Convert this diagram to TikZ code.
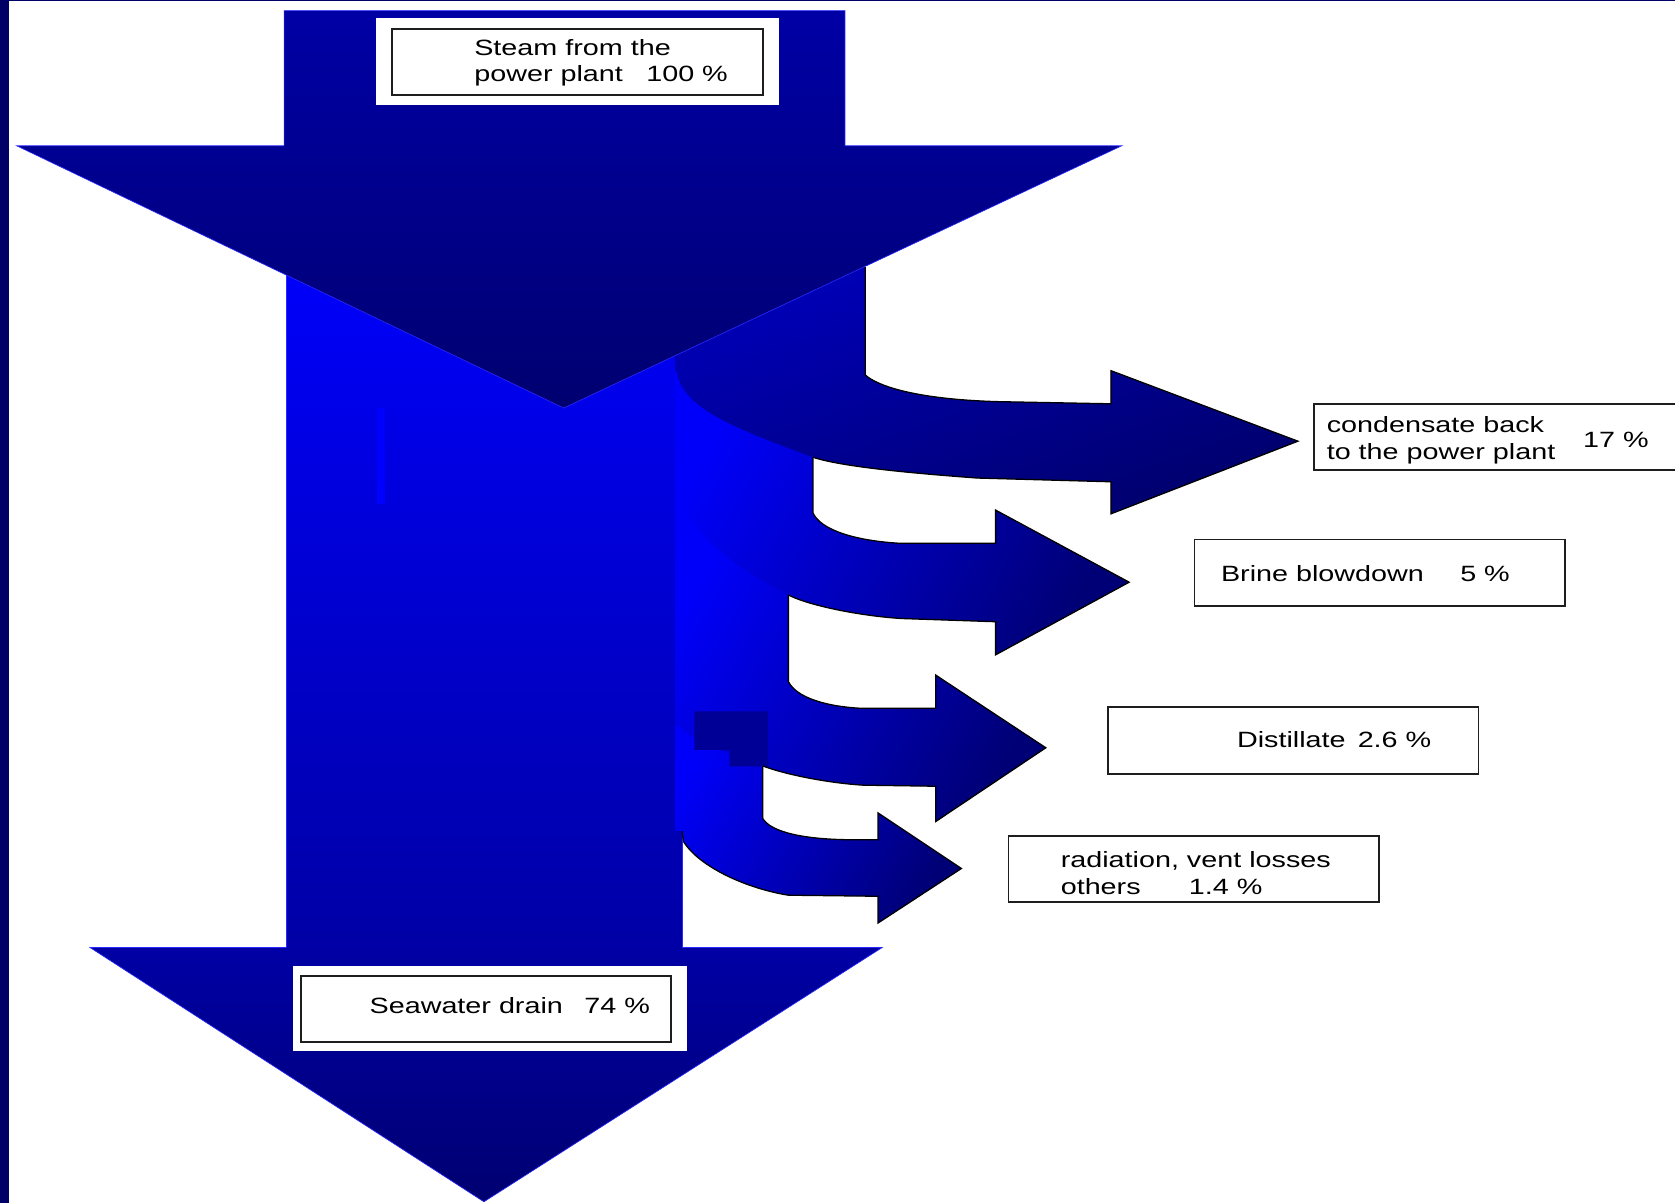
\documentclass[tikz,border=0pt]{standalone}
\usepackage{fontspec}
\setmainfont[FakeStretch=1.3]{Liberation Sans}
\definecolor{edgenavy}{RGB}{0,0,102}
\definecolor{arrowtop}{RGB}{0,0,165}
\definecolor{arrowmid}{RGB}{0,0,130}
\definecolor{arrowhead}{RGB}{0,0,112}
\definecolor{coltop}{RGB}{0,0,250}
\definecolor{colbot}{RGB}{0,0,165}
\definecolor{bonelight}{RGB}{0,0,185}
\definecolor{bonedark}{RGB}{0,0,108}
\definecolor{brlight}{RGB}{0,0,250}
\definecolor{brdark}{RGB}{0,0,118}
\definecolor{patchnavy}{RGB}{0,0,150}
\definecolor{stripblue}{RGB}{0,0,255}
\definecolor{boxgray}{RGB}{30,30,30}
\definecolor{rimblue}{RGB}{40,40,255}
\newcommand\lblfont{\fontsize{20.7}{25}\selectfont}
\begin{document}
\begin{tikzpicture}[x=1pt,y=-1pt,line join=miter]
\tikzset{
  textlbl/.style={anchor=base west,inner sep=0pt,outer sep=0pt,text=black,font=\lblfont},
  framebox/.style={draw=boxgray,line width=1.5pt,fill=white,inner sep=0pt,outer sep=0pt,anchor=north west},
  whitepad/.style={fill=white,inner sep=0pt,outer sep=0pt,anchor=north west},
  brline/.style={draw=black,line width=1.2pt},
  rimline/.style={draw=rimblue,line width=0.6pt},
  branchshade/.style={top color=brlight,bottom color=brdark,shading angle=60}
}
\useasboundingbox (0,0) rectangle (1568,1126);
\clip (0,0) rectangle (1568,1126);
% background and slide edges
\fill[white] (0,0) rectangle (1568,1126);
\fill[edgenavy] (0,0) rectangle (8.2,1126);
\fill[edgenavy] (0,0) rectangle (1568,1.3);

% main column
\shade[top color=coltop,bottom color=colbot] (268,250) rectangle (638.4,890);
\draw[rimline] (268,250) -- (268,890) (638.4,778) -- (638.4,890);
\fill[stripblue] (353,382) rectangle (360,472);

% branch 4 (radiation, vent losses)
\shade[branchshade] (632,650) -- (714,650) -- (714,766)
  .. controls (720,777) and (745,785) .. (790,786) -- (822,786) -- (822,761)
  -- (900,813) -- (822,864) -- (822,839) -- (738,838)
  .. controls (700,832) and (655,812) .. (640,788) -- (638,778) -- (632,778) -- cycle;
% branch 3 (distillate)
\shade[branchshade] (632,455) -- (738,455) -- (738,638)
  .. controls (745,652) and (770,661) .. (805,663) -- (876,663) -- (876,632)
  -- (979,700) -- (876,769) -- (876,736) -- (808,735)
  .. controls (775,733) and (735,725) .. (714,717)
  .. controls (680,705) and (650,695) .. (636,680) -- (632,680) -- cycle;
\fill[patchnavy] (650,666) -- (719,666) -- (719,717.5) -- (683,717.5) -- (683,702) -- (650,702) -- cycle;
% branch 2 (brine blowdown)
\shade[branchshade] (632,330) -- (761,330) -- (761,480)
  .. controls (768,496) and (800,506) .. (841,508.5) -- (932,508.5) -- (932,477.5)
  -- (1057,545) -- (932,613) -- (932,582) -- (844,579)
  .. controls (810,577) and (760,568) .. (738,557)
  .. controls (700,537) and (655,510) .. (638,470) -- (632,462) -- cycle;
% branch 1 (condensate)
\shade[top color=bonelight,bottom color=bonedark,shading angle=20] (632,250) -- (810,250) -- (810,351)
  .. controls (822,362) and (860,374) .. (935,376) -- (1040,378) -- (1040,347)
  -- (1215,413) -- (1040,481) -- (1040,451) -- (915,447.5)
  .. controls (840,442) and (785,436) .. (761,428)
  .. controls (700,405) and (640,385) .. (634,350) -- (632,345) -- cycle;

% visible outlines of the branches
\draw[brline] (810,250) -- (810,351)
  .. controls (822,362) and (860,374) .. (935,376) -- (1040,378) -- (1040,347)
  -- (1215,413) -- (1040,481) -- (1040,451) -- (915,447.5)
  .. controls (840,442) and (785,436) .. (761,428);
\draw[brline] (761,428) -- (761,480)
  .. controls (768,496) and (800,506) .. (841,508.5) -- (932,508.5) -- (932,477.5)
  -- (1057,545) -- (932,613) -- (932,582) -- (844,579)
  .. controls (810,577) and (760,568) .. (738,557);
\draw[brline] (738,557) -- (738,638)
  .. controls (745,652) and (770,661) .. (805,663) -- (876,663) -- (876,632)
  -- (979,700) -- (876,769) -- (876,736) -- (808,735)
  .. controls (775,733) and (735,725) .. (714,717);
\draw[brline] (714,717) -- (714,766)
  .. controls (720,777) and (745,785) .. (790,786) -- (822,786) -- (822,761)
  -- (900,813) -- (822,864) -- (822,839) -- (738,838)
  .. controls (700,832) and (655,812) .. (640,788) -- (638.4,778);

% top arrow (steam from the power plant)
\shade[top color=arrowtop,middle color=arrowmid,bottom color=arrowhead,rimline]
  (266,10) -- (791,10) -- (791,136.5) -- (1050,136.5) -- (527.7,382)
  -- (15.7,136.5) -- (266,136.5) -- cycle;
% bottom arrow head (seawater drain)
\shade[top color=arrowtop,bottom color=arrowhead] (84.3,887) -- (825.8,887) -- (453,1125) -- cycle;
\draw[rimline] (268,887) -- (84.3,887) -- (453,1125) -- (825.8,887) -- (638.4,887);

% label boxes
\node[whitepad,minimum width=377pt,minimum height=81pt] (steampad) at (352,17) {};
\node[framebox,minimum width=347pt,minimum height=62pt] (steambox) at (367,27) {};
\node[whitepad,minimum width=369pt,minimum height=80pt] (seapad) at (274,904) {};
\node[framebox,minimum width=346pt,minimum height=62pt] (seabox) at (282,913.6) {};
\node[framebox,minimum width=350pt,minimum height=62pt] (condbox) at (1230,378) {};
\node[framebox,minimum width=347pt,minimum height=62.5pt] (brinebox) at (1118,505) {};
\node[framebox,minimum width=347pt,minimum height=62.5pt] (distbox) at (1037,662) {};
\node[framebox,minimum width=347pt,minimum height=62pt] (radbox) at (944,782.5) {};

% texts
\node[textlbl] (steamA) at (444,51.5) {Steam from the};
\node[textlbl] (steamB) at (444,76.5) {power plant};
\node[textlbl] (steamC) at (605,76.5) {100 \%};
\node[textlbl] (seaA) at (346,949) {Seawater drain};
\node[textlbl] (seaB) at (547,949) {74 \%};
\node[textlbl] (condA) at (1242,405) {condensate back};
\node[textlbl] (condB) at (1242,430) {to the power plant};
\node[textlbl] (condC) at (1482,419) {17 \%};
\node[textlbl] (brineA) at (1143,544.5) {Brine blowdown};
\node[textlbl] (brineB) at (1367,544.5) {5 \%};
\node[textlbl] (distA) at (1158,699.5) {Distillate};
\node[textlbl] (distB) at (1271,699.5) {2.6 \%};
\node[textlbl] (radA) at (993,812) {radiation, vent losses};
\node[textlbl] (radB) at (993,837) {others};
\node[textlbl] (radC) at (1113,837) {1.4 \%};
\end{tikzpicture}
\end{document}
